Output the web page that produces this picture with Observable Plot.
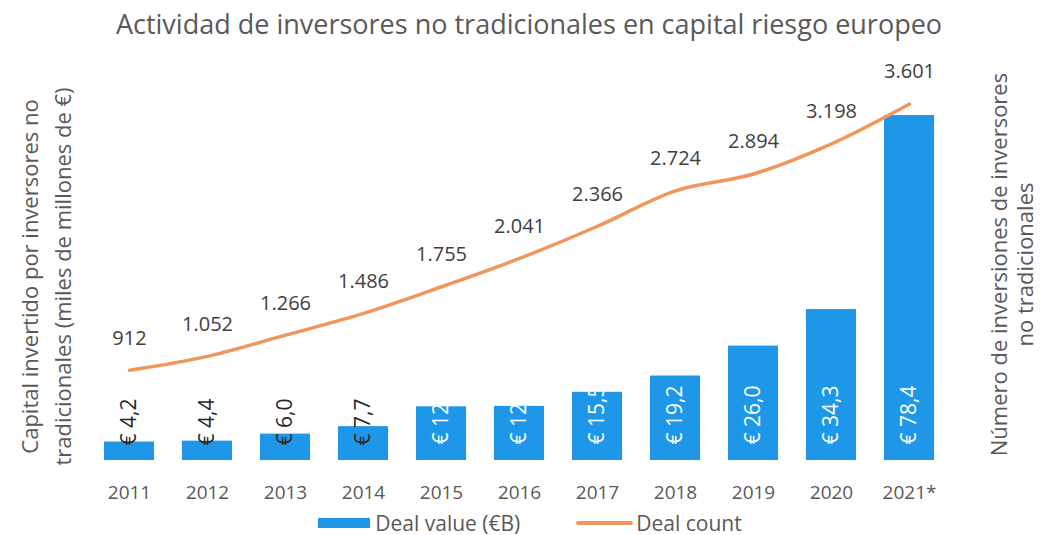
<!DOCTYPE html>
<html><head><meta charset="utf-8">
<script src="https://cdn.jsdelivr.net/npm/d3@7"></script>
<script src="https://cdn.jsdelivr.net/npm/@observablehq/plot@0.6"></script>
<style>
body{margin:0;background:#fff;font-family:"Open Sans",sans-serif;color:#595959;}
#title{height:44px;line-height:47px;text-align:center;font-size:27px;padding-left:18px;white-space:nowrap;}
#chart svg{display:block;}
#legend{display:flex;justify-content:center;align-items:center;height:22px;font-size:21px;padding-left:20px;}
.sw-bar{width:52px;height:10px;background:#1f97e9;margin-right:5px;}
.sw-line{width:57px;height:4px;border-radius:2px;background:#f0965a;margin-right:3px;margin-left:56px;}
</style></head><body>
<div id="title">Actividad de inversores no tradicionales en capital riesgo europeo</div>
<div id="chart"></div>
<div id="legend"><div class="sw-bar"></div><span>Deal value (€B)</span><div class="sw-line"></div><span>Deal count</span></div>
<script>
const years = ["2011","2012","2013","2014","2015","2016","2017","2018","2019","2020","2021*"];
const dealValue = [4.2,4.4,6.0,7.7,12.2,12.3,15.5,19.2,26.0,34.3,78.4];
const dealCount = [912,1052,1266,1486,1755,2041,2366,2724,2894,3198,3601];
const leftTitle = "Capital invertido por inversores no\ntradicionales (miles de millones de €)";
const rightTitle = "Número de inversiones de inversores\nno tradicionales";

const valueMax = 90, countMax = 4000;
const locale = d3.formatLocale({decimal:",", thousands:".", grouping:[3], currency:["€ ",""]});
const fmtCount = locale.format(",d");
const fmtValue = v => "€ " + locale.format(".1f")(v);
const data = years.map((year,i)=>({year, value:dealValue[i], count:dealCount[i]}));
const countY = d => d.count / countMax * valueMax;

const plot = Plot.plot({
  width:1040, height:468,
  marginTop:20, marginBottom:52, marginLeft:86, marginRight:89,
  style:{fontFamily:"Open Sans", fontSize:"19px", color:"#595959", background:"white"},
  x:{domain:years, paddingInner:0.36, paddingOuter:0.18, label:null, tickSize:0, tickPadding:25},
  y:{domain:[0,valueMax], axis:null},
  marks:[
    Plot.barY(data,{x:"year", y:"value", fill:"#1f97e9"}),
    Plot.text(data.filter(d=>d.value<10),{x:"year", y:0, text:d=>fmtValue(d.value), rotate:-90, textAnchor:"start", lineAnchor:"middle", fill:"#262626", fontSize:21, dy:-15}),
    Plot.text(data.filter(d=>d.value>=10),{x:"year", y:0, text:d=>fmtValue(d.value), rotate:-90, textAnchor:"start", lineAnchor:"middle", fill:"white", fontSize:21, dy:-16, ariaLabel:"bar-labels"}),
    Plot.lineY(data,{x:"year", y:countY, stroke:"#f0965a", strokeWidth:3.5, curve:"monotone-x"}),
    Plot.text(data,{x:"year", y:countY, text:d=>fmtCount(d.count), dy:-32, fontSize:20, fill:"#404040"}),
    Plot.text([leftTitle],{frameAnchor:"left", text:d=>d, rotate:-90, textAnchor:"middle", lineAnchor:"middle", dx:-43, dy:14, fontSize:22, lineHeight:1.5, fill:"#595959"}),
    Plot.text([rightTitle],{frameAnchor:"right", text:d=>d, rotate:-90, textAnchor:"middle", lineAnchor:"middle", dx:60, dy:2, fontSize:22, lineHeight:1.2, fill:"#595959"})
  ]
});
document.getElementById("chart").appendChild(plot);

// clip the inner white labels to their bars
const xs = plot.scale("x"), ys = plot.scale("y");
const svg = d3.select(plot);
const clip = svg.append("defs").append("clipPath").attr("id","bar-clip");
data.filter(d=>d.value>=10).forEach(d=>{
  clip.append("rect")
    .attr("x", xs.apply(d.year)).attr("width", xs.bandwidth)
    .attr("y", ys.apply(d.value)).attr("height", ys.apply(0)-ys.apply(d.value));
});
const lab = plot.querySelector('g[aria-label="bar-labels"]');
if (lab) {
  const wrap = document.createElementNS("http://www.w3.org/2000/svg","g");
  wrap.setAttribute("clip-path","url(#bar-clip)");
  lab.parentNode.insertBefore(wrap, lab);
  wrap.appendChild(lab);
}
</script>
</body></html>
